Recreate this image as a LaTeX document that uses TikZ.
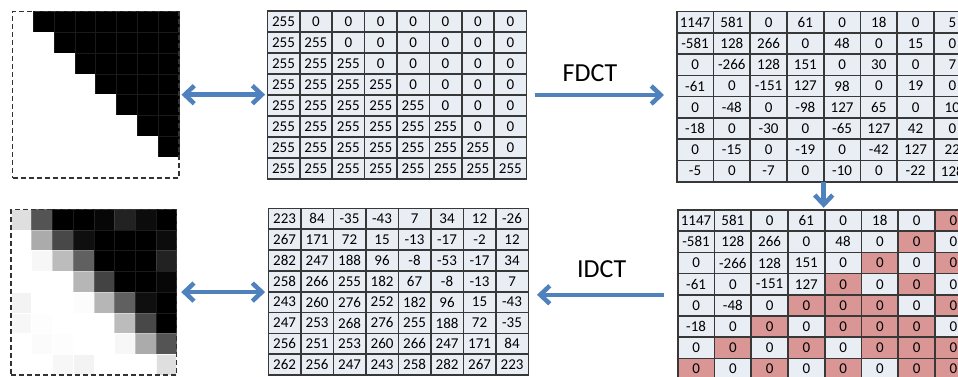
\documentclass[tikz,border=0pt]{standalone}
\usepackage{fontspec}
\setmainfont{Carlito}
\usetikzlibrary{arrows.meta}
\pgfdeclarelayer{background}
\pgfsetlayers{background,main}

\definecolor{cellbg}{HTML}{E9EDF4}
\definecolor{cut}{HTML}{D99694}
\definecolor{gridline}{HTML}{383838}
\definecolor{arrowblue}{HTML}{4F81BD}

\tikzset{
  x=1pt, y=-1pt,
  cellbox/.style={draw=gridline, line width=1.6pt, inner sep=0pt,
    font=\fontsize{15}{16}\selectfont},
  gridframe/.style={inner sep=0pt},
  imgframe/.style={draw=black!80, line width=1.2pt, dash pattern=on 5pt off 3pt, inner sep=0pt},
  oplabel/.style={font=\fontsize{26}{30}\selectfont, inner sep=0pt},
  barb/.tip={Straight Barb[length=9.5pt,width=18pt]},
  flowarrow/.style={draw=arrowblue, line width=4.5pt, -barb},
  bothways/.style={draw=arrowblue, line width=4.5pt, barb-barb},
}

% 8x8 table of numbers: name, left, top, cell width, cell height, rows
\newcommand\numgrid[6]{%
  \begin{pgfonlayer}{background}
    \fill[cellbg] (#2,#3) rectangle ++({8*#4},{8*#5});
  \end{pgfonlayer}
  \node[gridframe, minimum width={8*#4pt}, minimum height={8*#5pt}] (#1)
    at ({#2+4*#4},{#3+4*#5}) {};
  \foreach \row [count=\r] in #6 {
    \foreach \v [count=\c] in \row {
      \node[cellbox, minimum width=#4pt, minimum height=#5pt] (#1-\r-\c)
        at ({#2+(\c-0.5)*#4},{#3+(\r-0.5)*#5}) {\v};
    }
  }
}

% 8x8 grey-level picture of the same values (clipped to 0..255)
\newcommand\pixgrid[4]{%
  \foreach \row [count=\r] in #4 {
    \foreach \v [count=\c] in \row {
      \pgfmathtruncatemacro\g{max(0,min(255,\v))}
      \pgfmathtruncatemacro\h{min(255,\g+26)}
      \fill[fill={rgb,255:red,\g;green,\g;blue,\g},
            draw={rgb,255:red,\h;green,\h;blue,\h}, line width=0.5pt]
        ({#1+(\c-1)*#3},{#2+(\r-1)*#3}) rectangle ++(#3,#3);
    }
  }
}

\def\pixrows{%
  {255,0,0,0,0,0,0,0},
  {255,255,0,0,0,0,0,0},
  {255,255,255,0,0,0,0,0},
  {255,255,255,255,0,0,0,0},
  {255,255,255,255,255,0,0,0},
  {255,255,255,255,255,255,0,0},
  {255,255,255,255,255,255,255,0},
  {255,255,255,255,255,255,255,255}}

\def\dctrows{%
  {1147,581,0,61,0,18,0,5},
  {-581,128,266,0,48,0,15,0},
  {0,-266,128,151,0,30,0,7},
  {-61,0,-151,127,98,0,19,0},
  {0,-48,0,-98,127,65,0,10},
  {-18,0,-30,0,-65,127,42,0},
  {0,-15,0,-19,0,-42,127,22},
  {-5,0,-7,0,-10,0,-22,128}}

\def\qdctrows{%
  {1147,581,0,61,0,18,0,0},
  {-581,128,266,0,48,0,0,0},
  {0,-266,128,151,0,0,0,0},
  {-61,0,-151,127,0,0,0,0},
  {0,-48,0,0,0,0,0,0},
  {-18,0,0,0,0,0,0,0},
  {0,0,0,0,0,0,0,0},
  {0,0,0,0,0,0,0,0}}

\def\recrows{%
  {223,84,-35,-43,7,34,12,-26},
  {267,171,72,15,-13,-17,-2,12},
  {282,247,188,96,-8,-53,-17,34},
  {258,266,255,182,67,-8,-13,7},
  {243,260,276,252,182,96,15,-43},
  {247,253,268,276,255,188,72,-35},
  {256,251,253,260,266,247,171,84},
  {262,256,247,243,258,282,267,223}}

\begin{document}
\begin{tikzpicture}
  \useasboundingbox (0,0) rectangle (958,377);
  \clip (0,0) rectangle (958,377);

  % input block as picture and as numbers
  \pixgrid{12.5}{11.5}{20.8}{\pixrows}
  \node[imgframe, minimum width=166.4pt, minimum height=166.4pt] (imgA) at (95.7,94.7) {};
  \numgrid{pix}{267.3}{11}{32.4}{21}{\pixrows}

  % forward transform
  \numgrid{dct}{676.7}{11.7}{36.75}{21.25}{\dctrows}

  % coefficients after discarding
  \numgrid{qdct}{677.7}{210}{36.75}{21.2}{\qdctrows}
  \begin{pgfonlayer}{background}
    \foreach \r/\c in {1/8,2/7,3/6,3/8,4/5,4/7,5/4,5/5,5/6,5/8,6/3,6/5,6/6,6/7,
                       7/2,7/4,7/6,7/7,7/8,8/1,8/3,8/5,8/7,8/8}
      \fill[cut] (qdct-\r-\c.north west) rectangle (qdct-\r-\c.south east);
  \end{pgfonlayer}

  % reconstructed block
  \numgrid{rec}{268.3}{208.3}{32.5}{20.85}{\recrows}
  \pixgrid{11}{209.3}{20.7}{\recrows}
  \node[imgframe, minimum width=165.6pt, minimum height=165.6pt] (imgB) at (93.8,292.1) {};

  % connectors
  \draw[bothways, shorten <=2pt, shorten >=2pt] (imgA.east) -- (imgA.east -| pix.west);
  \draw[flowarrow, shorten <=8pt, shorten >=12.5pt] (pix.east) -- (pix.east -| dct.west);
  \node[oplabel] (fdct) at (590,73) {FDCT};
  \draw[flowarrow, shorten >=2pt] (dct.south) -- (dct.south |- qdct.north);
  \draw[flowarrow, shorten <=14pt, shorten >=8.5pt] (qdct.west) -- (qdct.west -| rec.east);
  \node[oplabel] (idct) at (601.7,269) {IDCT};
  \draw[bothways, shorten <=4pt, shorten >=3pt] (imgB.east) -- (imgB.east -| rec.west);
\end{tikzpicture}
\end{document}
